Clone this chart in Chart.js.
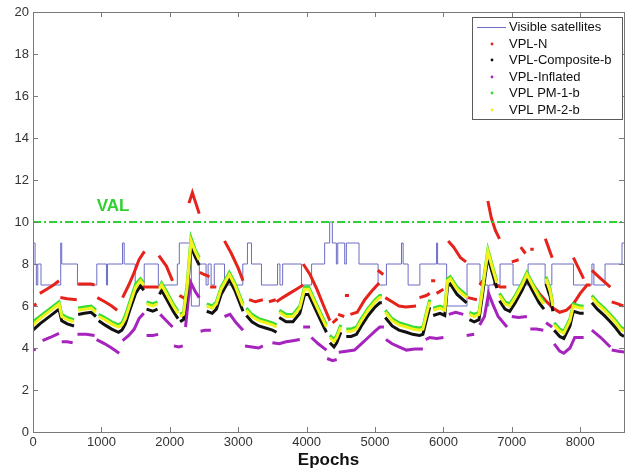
<!DOCTYPE html>
<html><head><meta charset="utf-8">
<script src="https://cdn.jsdelivr.net/npm/chart.js@4"></script>
<style>html,body{margin:0;padding:0;background:#fff}#c{display:block}</style>
</head><body>
<canvas id="c" width="633" height="472"></canvas>
<script>
// ---------- tick labels ----------
const xTicks = [0,1000,2000,3000,4000,5000,6000,7000,8000];
const yTicks = [0,2,4,6,8,10,12,14,16,18,20];
const xMax = 8640;

// ---------- Visible satellites (step line) ----------
const satEpochs = [0,30,49,70,117,405,420,650,933,1074,1090,1309,1333,1494,1626,1832,2110,2139,2315,2432,2530,2560,2604,2650,2800,3067,3135,3194,3340,3575,3610,3650,3925,4073,4264,4337,4376,4435,4455,4557,4581,4766,5045,5167,5387,5411,5484,5656,5900,5915,6047,6345,6535,6652,6665,6828,7018,7238,7487,7585,7902,8171,8200,8363,8611,8640];
const satCounts = [9,8,7,8,7,9,8,7,8,7,8,9,8,7,8,7,8,9,6,8,7,8,7,8,7,8,9,8,7,8,7,8,7,8,9,10,9,8,9,8,9,8,7,8,9,8,7,8,9,8,6,8,7,6,7,8,7,8,7,8,7,8,7,8,9,9];

// ---------- VPL-N ----------
const vplNEpochs = [0,50,75, 100,200,300,380,390, 400,500,640,650, 660,750,850,900,920, 940,1050,1150,1230,1270, 1310,1400,1480,1550,1630,1640, 1550,1700,1840,1845, 1840,1950,2040,2090, 2140,2200,2240,2260, 2280,2330,2380,2430,2435, 2440,2500,2580,2585, 2590,2680,2740, 2800,2900,3000,3070,3110, 3160,3250,3360,3400, 3450,3550,3555, 3560,3650,3750,3850,3950,3955, 3950,4050,4150,4250,4340,4360, 4380,4450,4455, 4460,4550,4555, 4560,4620,4630, 4640,4740,4850,4950,5060,5065, 5040,5120,5130, 5150,5250,5350,5450,5600,5620, 5650,5750,5800,5810, 5820,5880,5890, 5900,6000,6030, 6070,6150,6250,6330,6345, 6360,6490,6510, 6530,6600,6620, 6650,6700,6760,6820,6825, 6730,6830,6920,6960, 7000,7100,7115, 7130,7200,7230, 7270,7320,7330, 7270,7400,7510,7600,7700,7800,7900,8000,8100,8150,8155, 7490,7590,7595, 7900,8050,8060, 8170,8300,8440,8450, 8460,8550,8630];
const vplNValues = [6.0,6.1,null, 6.6,6.8,7.0,7.2,null, 6.4,6.35,6.3,null, 7.05,7.05,7.05,7.0,null, 6.4,6.2,6.0,5.8,null, 6.4,7.0,7.6,8.2,8.6,null, 6.9,6.9,6.9,null, 8.4,7.9,7.2,null, 6.5,6.4,6.3,null, 10.9,11.4,10.9,10.4,null, 7.6,7.5,7.4,null, 6.9,6.9,null, 9.1,8.5,7.8,7.2,null, 6.3,6.2,6.3,null, 6.2,6.3,null, 6.2,6.4,6.6,6.8,7.0,null, 8.0,7.5,6.8,6.0,5.3,null, 5.2,5.4,null, 5.6,5.5,null, 6.5,6.5,null, 5.6,5.7,6.3,6.7,7.1,null, 7.7,7.5,null, 6.4,6.2,6.0,5.95,6.0,null, 6.4,6.5,6.6,null, 7.2,7.2,null, 6.6,6.8,null, 9.1,8.8,8.3,8.1,null, 6.4,6.3,null, 7.0,7.3,null, 11.0,10.2,9.6,9.2,null, 7.1,6.9,6.9,null, 8.1,8.2,null, 8.8,8.5,null, 8.7,8.7,null, 7.2,6.6,6.2,5.9,5.7,5.8,6.1,6.6,7.0,7.0,null, 9.2,8.3,null, 8.3,7.3,null, 7.7,7.3,6.9,null, 6.2,6.1,6.0];

// ---------- PM / Composite (shared epochs) ----------
const pmEpochs = [0,100,200,300,380,420,500,600,630, 660,750,850,920,940, 960,1050,1150,1250,1300,1350,1420,1500,1570,1620,1640, 1660,1750,1820,1835, 1850,1880,1950,2050,2120,2135, 2150,2200,2250,2310,2370,2430,2480, 2540,2620,2680,2750,2870,2950,3070,3095, 3120,3200,3300,3400,3500,3560,3580, 3600,3700,3800,3900,3970,4030,4100,4200,4290,4315, 4340,4400,4440,4500,4540, 4580,4650,4730,4800,4900,5000,5070,5100,5125, 5150,5250,5350,5460,5550,5650,5700,5760,5800,5825, 5850,5950,6020,6060,6100,6200,6340,6360, 6380,6450,6520,6580,6650,6700,6780,6800, 6820,6900,6970,7050,7150,7220,7300,7400,7470,7485, 7500,7560,7600,7610, 7620,7700,7760,7850,7900,8000,8050,8110, 8170,8250,8350,8440,8520,8590,8640];
const pm2Values = [5.1,5.4,5.65,5.9,6.1,5.5,5.35,5.25,null, 5.8,5.85,5.9,5.7,null, 5.5,5.35,5.15,5.0,5.1,5.4,6.1,6.9,7.2,7.0,null, 6.1,6.0,6.1,null, 6.8,7.0,6.6,6.0,5.65,null, 5.5,5.6,6.8,9.1,8.6,8.2,null, 6.0,5.9,6.1,6.8,7.5,7.0,6.0,null, 5.8,5.5,5.3,5.2,5.1,5.0,null, 5.7,5.5,5.5,5.9,6.8,6.8,6.3,5.6,5.0,null, 4.5,4.3,4.5,5.0,null, 4.8,4.8,4.9,5.3,5.8,6.2,6.4,6.4,null, 5.7,5.3,5.1,5.0,4.9,4.85,4.9,5.7,6.2,null, 5.8,5.9,5.8,7.2,7.3,6.8,6.4,null, 5.6,5.5,5.6,7.0,8.6,8.0,7.1,null, 6.5,6.1,6.0,6.4,7.0,7.5,7.0,6.4,6.1,null, 7.3,6.7,6.0,null, 5.1,4.8,4.7,5.3,6.0,5.9,5.9,null, 6.4,6.1,5.8,5.5,5.2,4.9,4.8];
const compositeValues = [4.85,5.15,5.4,5.65,5.85,5.3,5.15,5.05,null, 5.6,5.65,5.7,5.5,null, 5.3,5.1,4.9,4.75,4.85,5.15,5.85,6.6,6.95,6.75,null, 5.85,5.75,5.85,null, 6.55,6.75,6.35,5.75,5.4,null, 5.25,5.35,6.55,8.85,8.35,7.95,null, 5.75,5.65,5.85,6.55,7.25,6.75,5.75,null, 5.55,5.25,5.05,4.95,4.85,4.75,null, 5.45,5.25,5.25,5.65,6.55,6.55,6.05,5.35,4.75,null, 4.25,4.05,4.25,4.75,null, 4.55,4.55,4.65,5.05,5.55,5.95,6.15,6.15,null, 5.45,5.05,4.85,4.75,4.65,4.6,4.65,5.45,5.95,null, 5.55,5.65,5.55,6.95,7.05,6.55,6.15,null, 5.35,5.25,5.35,6.75,8.35,7.75,6.85,null, 6.25,5.85,5.75,6.15,6.75,7.25,6.75,6.15,5.85,null, 7.05,6.45,5.75,null, 4.85,4.55,4.45,5.05,5.75,5.65,5.65,null, 6.15,5.85,5.55,5.25,4.95,4.65,4.55];
const pm1Values = [5.25,5.5,5.75,6.0,6.2,5.6,5.45,5.35,null, 5.9,5.95,6.0,5.8,null, 5.6,5.45,5.25,5.1,5.2,5.55,6.25,7.05,7.3,7.1,null, 6.2,6.1,6.2,null, 6.9,7.1,6.7,6.1,5.75,null, 5.6,5.7,6.95,9.25,8.7,8.3,null, 6.1,6.0,6.2,6.9,7.6,7.1,6.1,null, 5.9,5.6,5.4,5.3,5.2,5.1,null, 5.8,5.6,5.6,6.0,6.9,6.9,6.4,5.7,5.1,null, 4.6,4.4,4.6,5.1,null, 4.9,4.9,5.0,5.4,5.9,6.3,6.5,6.5,null, 5.8,5.4,5.2,5.1,5.0,4.95,5.0,5.8,6.3,null, 5.9,6.0,5.9,7.3,7.4,6.9,6.5,null, 5.7,5.6,5.7,7.1,8.7,8.1,7.2,null, 6.6,6.2,6.1,6.5,7.1,7.6,7.1,6.5,6.2,null, 7.4,6.8,6.1,null, 5.2,4.9,4.8,5.4,6.1,6.0,6.0,null, 6.5,6.2,5.9,5.6,5.3,5.0,4.9];

// ---------- VPL-Inflated ----------
const inflatedEpochs = [0,40,90, 140,250,380,400, 420,500,580,615, 650,780,900,915, 930,1050,1150,1260,1285, 1310,1400,1480,1550,1620,1640, 1660,1750,1830,1845, 1860,1950,2040,2050, 2060,2130,2190,2210, 2230,2270,2310,2370,2430,2440, 2450,2520,2600,2700, 2800,2880,2970,3070,3085, 3100,3200,3300,3360,3430, 3500,3600,3700,3800,3900,3925, 3950,4050,4060, 4070,4170,4290,4295, 4300,4380,4440,4455, 4470,4580,4700,4800,4900,5000,5070,5130,5145, 5160,5250,5350,5460,5580,5700,5720, 5740,5800,5900,6000,6040, 6080,6180,6290,6315, 6340,6450,6490, 6530,6600,6660,6720,6800,6930,6965, 7000,7100,7220,7245, 7270,7360,7460,7480, 7500,7590,7605, 7620,7700,7760,7850,7920,8050,8110, 8170,8300,8440,8450, 8460,8560,8650];
const inflatedValues = [3.9,3.95,null, 4.35,4.5,4.7,null, 4.3,4.3,4.25,null, 4.65,4.65,4.6,null, 4.4,4.2,4.0,3.75,null, 4.35,4.6,4.9,5.4,5.65,null, 4.6,4.6,4.65,null, 5.6,5.3,5.0,null, 4.1,4.05,4.1,null, 5.0,6.3,7.1,6.7,6.4,null, 4.8,4.85,4.85,null, 5.5,5.6,5.2,4.85,null, 4.1,4.05,4.0,4.1,null, 4.25,4.2,4.3,4.35,4.4,null, 5.0,5.0,null, 4.5,4.2,3.9,null, 3.5,3.4,3.45,null, 3.8,3.85,3.9,4.2,4.5,4.8,5.0,5.0,null, 4.4,4.2,4.05,3.9,3.95,3.95,null, 4.4,4.5,4.45,4.5,null, 5.6,5.7,5.6,null, 4.6,4.65,null, 5.1,5.5,6.6,6.1,5.5,5.0,null, 5.5,5.45,5.5,null, 4.9,4.9,4.85,null, 5.2,5.0,null, 4.2,3.85,3.75,4.0,4.5,4.5,null, 4.85,4.5,4.05,null, 3.9,3.85,3.8];

// ---------- VAL ----------
const valLevel = 10;
const valLabel = {text: 'VAL', x: 1170, y: 10.75};

const legendLabels = ['Visible satellites','VPL-N','VPL-Composite-b','VPL-Inflated','VPL PM-1-b','VPL PM-2-b'];

function pairs(xs, ys){ return xs.map((x,i)=>({x:x, y:ys[i]})); }
const FONT = '"Liberation Sans", Arial, sans-serif';

const colors = {
  sats:'#6c6cc4', n:'#e5231b', comp:'#111111', infl:'#a623bd', pm1:'#35dc35', pm2:'#f2f21e', val:'#2fd12f'
};

const overlay = {
  id:'overlay',
  afterDatasetsDraw(chart){
    const {ctx, chartArea:a, scales:{x,y}} = chart;
    ctx.save();
    // frame
    ctx.strokeStyle = '#7a7a7a'; ctx.lineWidth = 1;
    ctx.strokeRect(Math.round(a.left)+0.5, Math.round(a.top)+0.5, Math.round(a.right-a.left), Math.round(a.bottom-a.top));
    ctx.beginPath();
    xTicks.forEach(v=>{ const px=Math.round(x.getPixelForValue(v))+0.5;
      ctx.moveTo(px,a.bottom); ctx.lineTo(px,a.bottom-5); ctx.moveTo(px,a.top); ctx.lineTo(px,a.top+5); });
    yTicks.forEach(v=>{ const py=Math.round(y.getPixelForValue(v))+0.5;
      ctx.moveTo(a.left,py); ctx.lineTo(a.left+5,py); ctx.moveTo(a.right,py); ctx.lineTo(a.right-5,py); });
    ctx.stroke();
    // VAL label
    ctx.fillStyle = colors.val; ctx.font = 'bold 17px '+FONT; ctx.textAlign='center'; ctx.textBaseline='middle';
    ctx.fillText(valLabel.text, x.getPixelForValue(valLabel.x), y.getPixelForValue(valLabel.y));
    // legend
    const L=472, T=17, W=150, H=102;
    ctx.fillStyle='#fff'; ctx.fillRect(L,T,W,H);
    ctx.strokeStyle='#5a5a5a'; ctx.strokeRect(L+0.5,T+0.5,W,H);
    ctx.font='13px '+FONT; ctx.textAlign='left'; ctx.textBaseline='middle';
    const cols=[colors.sats,colors.n,colors.comp,colors.infl,colors.pm1,colors.pm2];
    legendLabels.forEach((lab,i)=>{
      const cy = Math.round(T+10+i*16.6);
      if(i===0){ ctx.strokeStyle=cols[0]; ctx.lineWidth=1; ctx.beginPath(); ctx.moveTo(477,cy+0.5); ctx.lineTo(506,cy+0.5); ctx.stroke(); }
      else { ctx.fillStyle=cols[i]; ctx.beginPath(); ctx.arc(492,cy,1.4,0,Math.PI*2); ctx.fill(); }
      ctx.fillStyle='#111'; ctx.fillText(lab,509,cy+0.5);
    });
    ctx.restore();
  }
};

const dotLine = (label, data, color, order) => ({
  label, data, borderColor:color, backgroundColor:color, borderWidth:3, pointRadius:0,
  showLine:true, spanGaps:false, order, tension:0
});

new Chart(document.getElementById('c'), {
  type:'line',
  data:{ datasets:[
    {label:'VAL', data:[{x:0,y:valLevel},{x:xMax,y:valLevel}], borderColor:colors.val, borderWidth:2, borderDash:[8,3,2,3], pointRadius:0, order:0},
    dotLine(legendLabels[5], pairs(pmEpochs,pm2Values), colors.pm2, 1),
    dotLine(legendLabels[4], pairs(pmEpochs,pm1Values), colors.pm1, 2),
    dotLine(legendLabels[2], pairs(pmEpochs,compositeValues), colors.comp, 3),
    dotLine(legendLabels[3], pairs(inflatedEpochs,inflatedValues), colors.infl, 4),
    dotLine(legendLabels[1], pairs(vplNEpochs,vplNValues), colors.n, 5),
    {label:legendLabels[0], data:pairs(satEpochs,satCounts), stepped:true, borderColor:colors.sats, borderWidth:1, pointRadius:0, order:6}
  ]},
  options:{
    responsive:false, animation:false, devicePixelRatio:1,
    layout:{padding:{top:12,right:9,left:0,bottom:0}},
    plugins:{legend:{display:false}, tooltip:{enabled:false}},
    scales:{
      x:{type:'linear', min:0, max:xMax,
        afterBuildTicks:s=>{ s.ticks = xTicks.map(v=>({value:v})); },
        afterFit:s=>{ s.height=40; },
        grid:{display:false, drawTicks:false}, border:{display:false},
        ticks:{padding:3, color:'#333', font:{family:FONT,size:13}, maxRotation:0, autoSkip:false, callback:v=>String(v)},
        title:{display:true, text:'Epochs', color:'#111', font:{family:FONT,size:17,weight:'bold'}, padding:{top:0,bottom:1}}
      },
      y:{type:'linear', min:0, max:20,
        afterBuildTicks:s=>{ s.ticks = yTicks.map(v=>({value:v})); },
        afterFit:s=>{ s.width=33; },
        grid:{display:false, drawTicks:false}, border:{display:false},
        ticks:{padding:4, color:'#333', font:{family:FONT,size:13}, autoSkip:false, callback:v=>String(v)}
      }
    }
  },
  plugins:[overlay]
});
</script>
</body></html>
